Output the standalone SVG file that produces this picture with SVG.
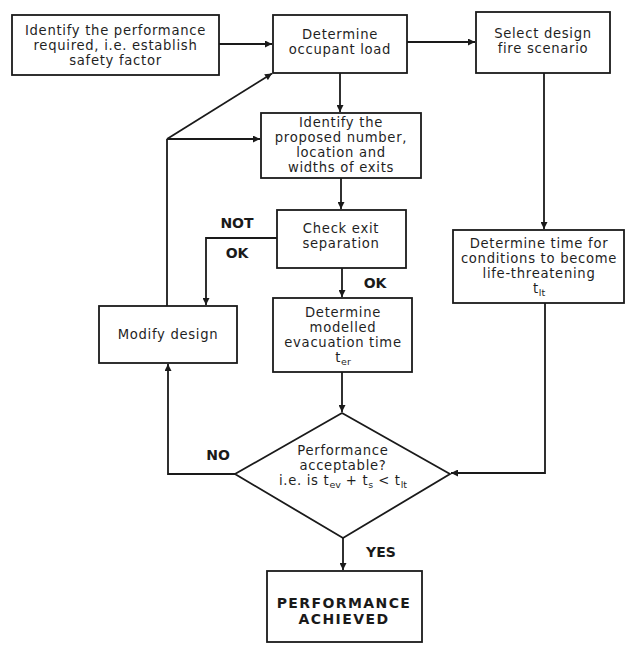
<svg xmlns="http://www.w3.org/2000/svg" width="626" height="647" viewBox="0 0 626 647">
<defs>
<marker id="ah" viewBox="0 0 10 10" refX="10" refY="5" markerWidth="9" markerHeight="7" markerUnits="userSpaceOnUse" orient="auto">
<path d="M0,0 L10,5 L0,10 z" fill="#1a1a1a"/>
</marker>
<style>
.box{fill:#fff;stroke:#1a1a1a;stroke-width:1.8}
.t{font-family:"DejaVu Sans",sans-serif;font-size:13.2px;letter-spacing:0.7px;fill:#1f1f1f;text-anchor:middle}
.b{font-family:"DejaVu Sans",sans-serif;font-weight:bold;font-size:14px;fill:#1a1a1a;text-anchor:middle}
.c{fill:none;stroke:#1a1a1a;stroke-width:1.8}
.a{marker-end:url(#ah)}
.s{font-size:9.5px;letter-spacing:0}
</style>
</defs>
<rect width="626" height="647" fill="#fff"/>
<g id="connectors">
<path class="c a" d="M219,44 H272"/>
<path class="c a" d="M407,42 H475"/>
<path class="c a" d="M340,73 V112"/>
<path class="c a" d="M341,178 V209"/>
<path class="c a" d="M277,238 H206 V305"/>
<path class="c" d="M167,306 V139"/>
<path class="c a" d="M167,139 H260"/>
<path class="c a" d="M167,139 L272,73.5"/>
<path class="c a" d="M342,268 V297"/>
<path class="c a" d="M342,372 V412"/>
<path class="c a" d="M544,73 V229"/>
<path class="c a" d="M545,303 V473 H451"/>
<path class="c a" d="M235,474 H168 V364"/>
<path class="c a" d="M343,538 V570"/>
<text class="b" x="237" y="228">NOT</text>
<text class="b" x="237" y="258">OK</text>
<text class="b" x="375" y="288">OK</text>
<text class="b" x="218" y="460">NO</text>
<text class="b" x="381" y="557">YES</text>
</g>
<g id="n1">
<rect class="box" x="12" y="15" width="207" height="60"/>
<text class="t" x="115.5" y="35">Identify the performance</text>
<text class="t" x="115.5" y="50">required, i.e. establish</text>
<text class="t" x="115.5" y="65">safety factor</text>
</g>
<g id="n2">
<rect class="box" x="273" y="15" width="134" height="58"/>
<text class="t" x="340" y="39">Determine</text>
<text class="t" x="340" y="54">occupant load</text>
</g>
<g id="n3">
<rect class="box" x="476" y="12" width="134" height="61"/>
<text class="t" x="543" y="38">Select design</text>
<text class="t" x="543" y="53">fire scenario</text>
</g>
<g id="n4">
<rect class="box" x="261" y="113" width="160" height="65"/>
<text class="t" x="341" y="127">Identify the</text>
<text class="t" x="341" y="142">proposed number,</text>
<text class="t" x="341" y="157">location and</text>
<text class="t" x="341" y="172">widths of exits</text>
</g>
<g id="n5">
<rect class="box" x="277" y="210" width="129" height="58"/>
<text class="t" x="341" y="233">Check exit</text>
<text class="t" x="341" y="248">separation</text>
</g>
<g id="n6">
<rect class="box" x="99" y="306" width="138" height="57"/>
<text class="t" x="168" y="339">Modify design</text>
</g>
<g id="n7">
<rect class="box" x="273" y="298" width="139" height="74"/>
<text class="t" x="343" y="317">Determine</text>
<text class="t" x="343" y="332">modelled</text>
<text class="t" x="343" y="347">evacuation time</text>
<text class="t" x="343" y="362">t<tspan class="s" dy="3">er</tspan></text>
</g>
<g id="n8">
<rect class="box" x="453" y="230" width="171" height="73"/>
<text class="t" x="539" y="248">Determine time for</text>
<text class="t" x="539" y="263">conditions to become</text>
<text class="t" x="539" y="278">life-threatening</text>
<text class="t" x="539" y="293">t<tspan class="s" dy="3">lt</tspan></text>
</g>
<g id="n9">
<polygon class="box" points="342,413 450,474 343,538 235,474"/>
<text class="t" x="343" y="455">Performance</text>
<text class="t" x="343" y="470">acceptable?</text>
<text class="t" x="343" y="485">i.e. is t<tspan class="s" dy="3">ev</tspan><tspan dy="-3"> + t</tspan><tspan class="s" dy="3">s</tspan><tspan dy="-3"> &lt; t</tspan><tspan class="s" dy="3">lt</tspan></text>
</g>
<g id="n10">
<rect class="box" x="267" y="571" width="155" height="71"/>
<text class="b" style="letter-spacing:1.4px" x="344" y="608">PERFORMANCE</text>
<text class="b" style="letter-spacing:1.4px" x="344" y="624">ACHIEVED</text>
</g>
</svg>
